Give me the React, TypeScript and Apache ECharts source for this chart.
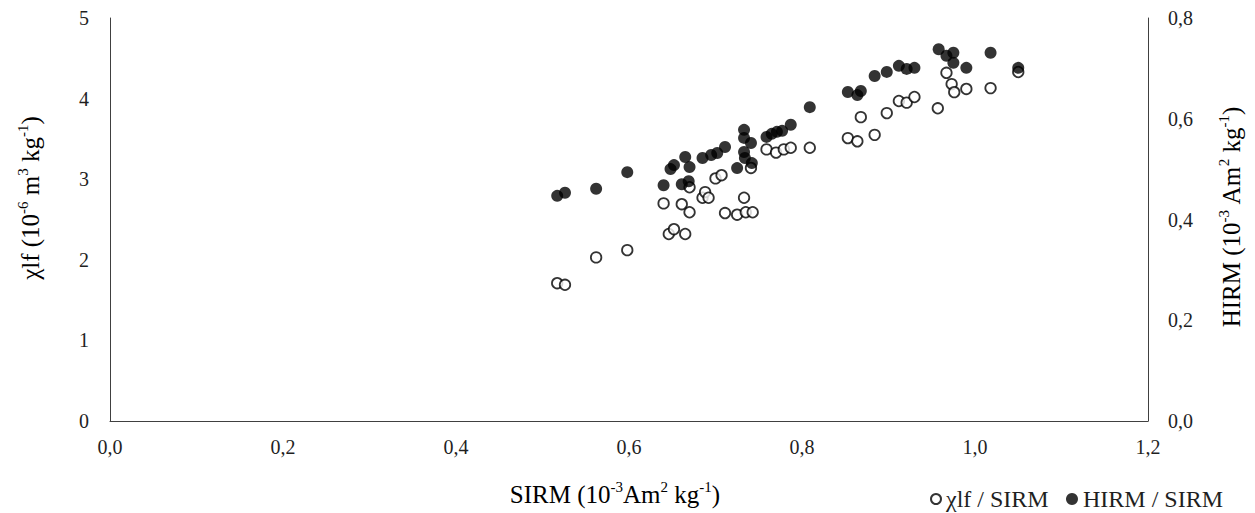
import React, { useEffect, useRef } from "react";
import * as echarts from "echarts";

// SIRM (10^-3 Am2 kg-1) for samples carrying a χlf value
const sirmChi = [
  0.517, 0.526, 0.562, 0.598, 0.64, 0.646, 0.652, 0.661, 0.665, 0.67, 0.67,
  0.685, 0.688, 0.692, 0.7, 0.707, 0.711, 0.725, 0.733, 0.735, 0.743, 0.741,
  0.759, 0.77, 0.779, 0.787, 0.809, 0.853, 0.864, 0.868, 0.884, 0.898, 0.912,
  0.921, 0.93, 0.957, 0.967, 0.973, 0.976, 0.99, 1.018, 1.05,
];
// χlf (10^-6 m3 kg-1), left axis
const chiValues = [
  1.71, 1.69, 2.03, 2.12, 2.7, 2.32, 2.38, 2.69, 2.32, 2.59, 2.9,
  2.77, 2.84, 2.77, 3.01, 3.05, 2.58, 2.56, 2.77, 2.59, 2.59, 3.14,
  3.37, 3.33, 3.37, 3.39, 3.39, 3.51, 3.47, 3.77, 3.55, 3.82, 3.97,
  3.95, 4.02, 3.88, 4.32, 4.18, 4.08, 4.12, 4.13, 4.33,
];

// SIRM for samples carrying a HIRM value
const sirmHirm = [
  0.517, 0.526, 0.562, 0.598, 0.64, 0.648, 0.652, 0.665, 0.67, 0.661, 0.669,
  0.685, 0.695, 0.702, 0.711, 0.725, 0.733, 0.733, 0.741, 0.733, 0.734, 0.742,
  0.759, 0.765, 0.771, 0.777, 0.787, 0.809, 0.853, 0.864, 0.868, 0.884, 0.898,
  0.912, 0.921, 0.93, 0.958, 0.967, 0.975, 0.975, 0.99, 1.018, 1.05,
];
// HIRM (10^-3 Am2 kg-1), right axis
const hirmValues = [
  0.447, 0.453, 0.461, 0.494, 0.468, 0.5, 0.508, 0.524, 0.504, 0.47, 0.476,
  0.522, 0.528, 0.532, 0.544, 0.502, 0.578, 0.562, 0.552, 0.534, 0.522, 0.512,
  0.564, 0.57, 0.574, 0.576, 0.588, 0.623, 0.653, 0.647, 0.655, 0.685, 0.693,
  0.705, 0.699, 0.701, 0.738, 0.725, 0.731, 0.711, 0.701, 0.731, 0.701,
];

const xTicks = { min: 0, max: 1.2, interval: 0.2 };
const leftTicks = { min: 0, max: 5, interval: 1 };
const rightTicks = { min: 0, max: 0.8, interval: 0.2 };

const FONT = "'Liberation Serif', 'Times New Roman', serif";
const TEXT = "#1f1f1f";
const LINE = "#404040";

const comma = (v: number) => v.toFixed(1).replace(".", ",");

const rich = {
  n: { fontFamily: FONT, fontSize: 25, color: TEXT, lineHeight: 30 },
  s: {
    fontFamily: FONT,
    fontSize: 15,
    color: TEXT,
    lineHeight: 24,
    verticalAlign: "top",
  },
};

export default function App() {
  const ref = useRef<HTMLDivElement>(null);

  useEffect(() => {
    if (!ref.current) return;
    const chart = echarts.init(ref.current, undefined, { renderer: "svg" });

    const axisLabel = {
      fontFamily: FONT,
      fontSize: 20,
      color: TEXT,
    };
    const legendText = { fontFamily: FONT, fontSize: 24, color: TEXT };

    chart.setOption({
      animation: false,
      backgroundColor: "#fff",
      grid: { left: 110, right: 107, top: 18, bottom: 92, containLabel: false },
      xAxis: {
        type: "value",
        ...xTicks,
        axisLine: { show: true, onZero: false, lineStyle: { color: LINE, width: 1 } },
        axisTick: { show: false },
        splitLine: { show: false },
        axisLabel: { ...axisLabel, margin: 16, formatter: (v: number) => comma(v) },
      },
      yAxis: [
        {
          type: "value",
          position: "left",
          ...leftTicks,
          axisLine: { show: true, lineStyle: { color: LINE, width: 1 } },
          axisTick: { show: false },
          splitLine: { show: false },
          axisLabel: { ...axisLabel, margin: 21 },
        },
        {
          type: "value",
          position: "right",
          ...rightTicks,
          axisLine: { show: true, lineStyle: { color: LINE, width: 1 } },
          axisTick: { show: false },
          splitLine: { show: false },
          axisLabel: { ...axisLabel, margin: 20, formatter: (v: number) => comma(v) },
        },
      ],
      legend: [
        {
          left: 925,
          top: 482,
          itemWidth: 10,
          itemHeight: 10,
          itemGap: 5,
          textStyle: legendText,
          data: [{ name: "χlf / SIRM", icon: "circle" }],
        },
        {
          left: 1061,
          top: 482,
          itemWidth: 12,
          itemHeight: 12,
          itemGap: 5,
          textStyle: legendText,
          data: [{ name: "HIRM / SIRM", icon: "circle" }],
        },
      ],
      series: [
        {
          name: "χlf / SIRM",
          type: "scatter",
          yAxisIndex: 0,
          symbol: "circle",
          symbolSize: 10.5,
          itemStyle: { color: "#fff", borderColor: "#000", borderWidth: 1.8 },
          data: sirmChi.map((x, i) => [x, chiValues[i]]),
        },
        {
          name: "HIRM / SIRM",
          type: "scatter",
          yAxisIndex: 1,
          symbol: "circle",
          symbolSize: 12,
          itemStyle: { color: "#000", borderColor: "#000", borderWidth: 0 },
          data: sirmHirm.map((x, i) => [x, hirmValues[i]]),
        },
      ],
      graphic: [
        {
          type: "text",
          x: 615,
          y: 494,
          style: {
            text: "{n|SIRM (10}{s|-3}{n|Am}{s|2}{n| kg}{s|-1}{n|)}",
            rich,
            align: "center",
            verticalAlign: "middle",
          },
        },
        {
          type: "text",
          x: 30,
          y: 198,
          rotation: Math.PI / 2,
          style: {
            text: "{n|χlf (10}{s|-6}{n| m}{s|3}{n| kg}{s|-1}{n|)}",
            rich,
            align: "center",
            verticalAlign: "middle",
          },
        },
        {
          type: "text",
          x: 1231,
          y: 217,
          rotation: Math.PI / 2,
          style: {
            text: "{n|HIRM (10}{s|-3}{n| Am}{s|2}{n| kg}{s|-1}{n|)}",
            rich,
            align: "center",
            verticalAlign: "middle",
          },
        },
      ],
    });

    return () => chart.dispose();
  }, []);

  return (
    <div
      ref={ref}
      style={{ position: "fixed", left: 0, top: 0, width: 1255, height: 513 }}
    />
  );
}
